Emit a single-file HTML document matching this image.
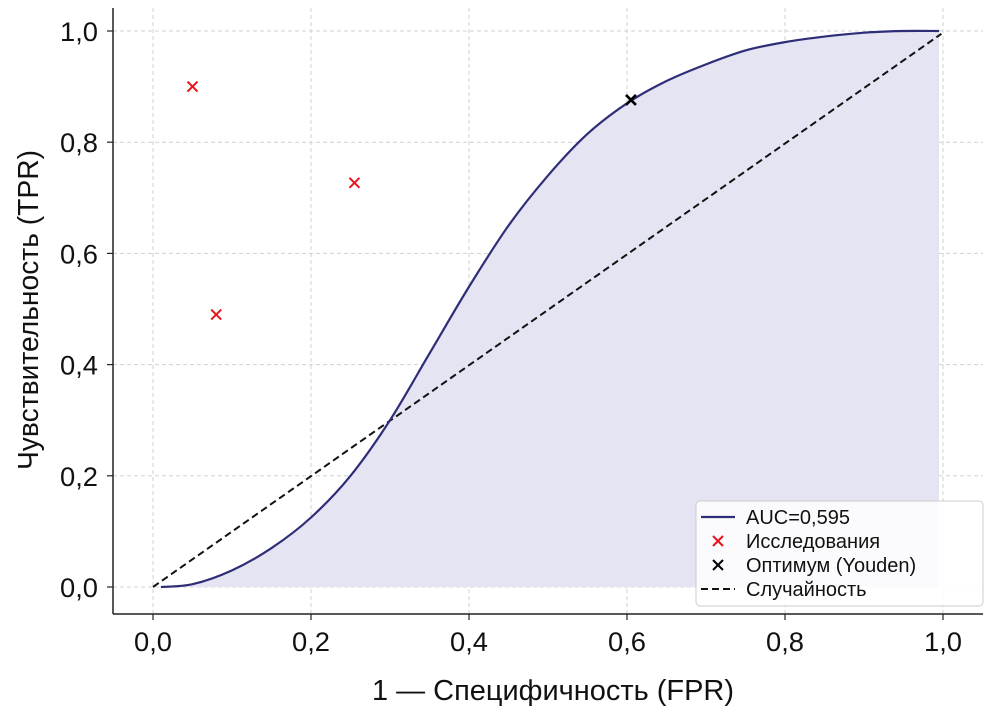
<!DOCTYPE html>
<html><head><meta charset="utf-8"><style>
html,body{margin:0;padding:0;background:#fff;}
svg{display:block;font-family:"Liberation Sans Narrow","Liberation Sans",sans-serif;}
</style></head><body>
<svg id="chart" width="991" height="713"></svg>
<script>
const xTicks=[0,0.2,0.4,0.6,0.8,1.0];
const yTicks=[0,0.2,0.4,0.6,0.8,1.0];
const tickLabels=["0,0","0,2","0,4","0,6","0,8","1,0"];
const rocFpr=[0.01,0.05,0.1,0.15,0.2,0.25,0.3,0.35,0.4,0.45,0.5,0.55,0.6,0.65,0.7,0.75,0.8,0.85,0.9,0.95,0.995];
const rocTpr=[0,0.005,0.03,0.07,0.125,0.2,0.3,0.42,0.54,0.65,0.74,0.815,0.87,0.91,0.94,0.965,0.98,0.99,0.997,1.0,1.0];
const studyFpr=[0.05,0.08,0.255];
const studyTpr=[0.9,0.49,0.727];
const optFpr=[0.605];
const optTpr=[0.876];
const diagX=[0,0.998];
const diagY=[0,0.995];
const legendLabels=["AUC=0,595","Исследования","Оптимум (Youden)","Случайность"];

const NS="http://www.w3.org/2000/svg";
const svg=document.getElementById('chart');
const sx=v=>153+v*790;
const sy=v=>587-v*556;
function mk(tag,attrs,parent){const e=document.createElementNS(NS,tag);for(const k in attrs)e.setAttribute(k,attrs[k]);(parent||svg).appendChild(e);return e;}

xTicks.forEach((t,i)=>{const l=mk('line',{x1:sx(t),x2:sx(t),y1:8,y2:614,stroke:'#d0d0d0','stroke-dasharray':'4,3','stroke-width':1});

});
yTicks.forEach((t,i)=>{const l=mk('line',{x1:113,x2:983,y1:sy(t),y2:sy(t),stroke:'#d0d0d0','stroke-dasharray':'4,3','stroke-width':1});

});

// smooth path via Catmull-Rom
const pts=rocFpr.map((x,i)=>[sx(x),sy(rocTpr[i])]);
let c='M'+pts[0][0]+','+pts[0][1];
for(let i=0;i<pts.length-1;i++){
 const p0=pts[Math.max(0,i-1)],p1=pts[i],p2=pts[i+1],p3=pts[Math.min(pts.length-1,i+2)];
 const c1=[p1[0]+(p2[0]-p0[0])/6,p1[1]+(p2[1]-p0[1])/6];
 const c2=[p2[0]-(p3[0]-p1[0])/6,p2[1]-(p3[1]-p1[1])/6];
 c+=' C'+c1[0]+','+c1[1]+' '+c2[0]+','+c2[1]+' '+p2[0]+','+p2[1];
}
const last=pts[pts.length-1];
const area=mk('path',{d:c+' L'+last[0]+','+sy(0)+' L'+pts[0][0]+','+sy(0)+' Z',fill:'#e4e4f2',stroke:'none'});



const diag=mk('line',{x1:sx(diagX[0]),y1:sy(diagY[0]),x2:sx(diagX[1]),y2:sy(diagY[1]),stroke:'#111','stroke-width':2,'stroke-dasharray':'7,4'});



const curve=mk('path',{d:c,fill:'none',stroke:'#2e2e78','stroke-width':2.2,'stroke-linejoin':'round'});



function cross(x,y,col,sw){const g=mk('g',{});const s=5;
mk('line',{x1:x-s,y1:y-s,x2:x+s,y2:y+s,stroke:col,'stroke-width':sw},g);
mk('line',{x1:x-s,y1:y+s,x2:x+s,y2:y-s,stroke:col,'stroke-width':sw},g);return g;}
studyFpr.forEach((x,i)=>{const g=cross(sx(x),sy(studyTpr[i]),'#e8141c',2);

});
optFpr.forEach((x,i)=>{const g=cross(sx(x),sy(optTpr[i]),'#000',2.6);

});

const ls=mk('line',{x1:113,y1:8,x2:113,y2:614,stroke:'#222','stroke-width':1.5});


const bs=mk('line',{x1:113,y1:614,x2:983,y2:614,stroke:'#222','stroke-width':1.5});



xTicks.forEach((t,i)=>{mk('line',{x1:sx(t),x2:sx(t),y1:614,y2:620,stroke:'#222','stroke-width':1.2});
const tx=mk('text',{x:sx(t)-19,y:651,'font-size':27,fill:'#111',textLength:38,lengthAdjust:'spacingAndGlyphs'});tx.textContent=tickLabels[i];

});
yTicks.forEach((t,i)=>{mk('line',{x1:107,x2:113,y1:sy(t),y2:sy(t),stroke:'#222','stroke-width':1.2});
const tx=mk('text',{x:60,y:sy(t)+10,'font-size':27,fill:'#111',textLength:38,lengthAdjust:'spacingAndGlyphs'});tx.textContent=tickLabels[i];

});

const xt=mk('text',{x:372,y:700,'font-size':29,fill:'#111',textLength:362,lengthAdjust:'spacingAndGlyphs'});xt.textContent='1 — Специфичность (FPR)';


const yt=mk('text',{x:-160,y:0,'font-size':29,fill:'#111',textLength:320,lengthAdjust:'spacingAndGlyphs',transform:'translate(38,310) rotate(-90)'});yt.textContent='Чувствительность (TPR)';



const lg=mk('g',{});


mk('rect',{x:696,y:501,width:287,height:105,rx:4,fill:'rgba(255,255,255,0.85)',stroke:'#ccc'},lg);
legendLabels.forEach((lab,i)=>{const y=517+i*24;
const e=mk('g',{},lg);


if(i==0)mk('line',{x1:701,x2:735,y1:y,y2:y,stroke:'#2e2e78','stroke-width':2.2},e);
if(i==1)cross(718,y,'#e8141c',2);
if(i==2)cross(718,y,'#000',2);
if(i==3)mk('line',{x1:701,x2:735,y1:y,y2:y,stroke:'#111','stroke-width':2,'stroke-dasharray':'7,4'},e);
const t=mk('text',{x:746,y:y+7,'font-size':20,fill:'#111'},e);t.textContent=lab;});
</script>
</body></html>
